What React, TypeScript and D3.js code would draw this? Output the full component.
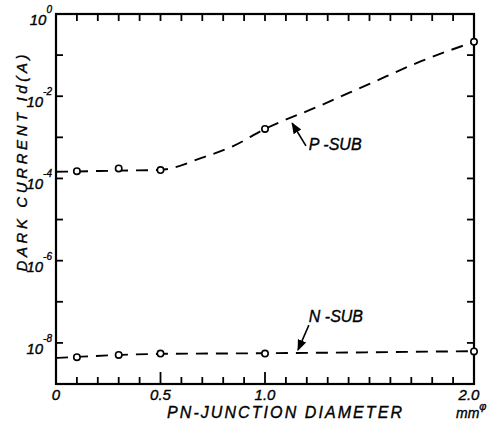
import React from 'react'
import * as d3 from 'd3'

// measured points (diameter in mm, dark current in A)
const diameters = [0.1, 0.3, 0.5, 1.0, 2.0]
const pSub = [1.5e-4, 1.75e-4, 1.6e-4, 1.6e-3, 0.21]
const nSub = [4.5e-9, 5.1e-9, 5.5e-9, 5.5e-9, 6.2e-9]

// hand-drawn dashed trend lines
const pFitD = [0, 0.1, 0.3, 0.5, 0.7, 0.85, 1.0, 1.25, 1.5, 1.75, 2.0]
const pFit = [1.45e-4, 1.48e-4, 1.55e-4, 1.62e-4, 3.2e-4, 6.2e-4, 1.6e-3, 5.5e-3, 2.0e-2, 7.2e-2, 0.21]
const nFitD = [0, 0.5, 1.0, 2.0]
const nFit = [4.3e-9, 5.4e-9, 5.6e-9, 6.3e-9]

const xTickLabels = ['0', '0.5', '1.0', '2.0']
const xTickValues = [0, 0.5, 1.0, 2.0]
const yLabelExps = [0, -2, -4, -6, -8]

// annotations: label, text pos, arrow tail, arrow tip (data coords)
const notes = [
  { label: 'P -SUB', text: [1.2, 4.9e-4], tail: [1.196, 6.2e-4], tip: [1.13, 2.2e-3] },
  { label: 'N -SUB', text: [1.2, 3.2e-8], tail: [1.21, 2.7e-8], tip: [1.158, 6.7e-9] },
]

const W = 494
const H = 425
const font = '"Liberation Sans", Arial, sans-serif'

export default function App() {
  const x = d3.scaleLinear().domain([0, 2]).range([56, 474])
  const y = d3.scaleLog().domain([1e-9, 1]).range([384, 14])
  const [x0, x1] = x.range()
  const [y0, y1] = y.range()

  const line = d3.line<[number, number]>()
    .x(d => x(d[0]))
    .y(d => y(d[1]))
    .curve(d3.curveMonotoneX)

  const pPath = line(pFitD.map((d, i) => [d, pFit[i]]))
  const nPath = line(nFitD.map((d, i) => [d, nFit[i]]))

  const minorX = d3.range(1, 20).map(i => i / 10)
  const decades = d3.range(-8, 0).map(e => Math.pow(10, e))
  const isMajor = (t: number) => Math.abs(t - 0.5) < 1e-6 || Math.abs(t - 1) < 1e-6

  const ink = { fill: '#000', stroke: '#000', strokeWidth: 0.35 }

  return (
    <svg width={W} height={H} style={{ position: 'absolute', left: 0, top: 0, background: '#fff' }}
      fontFamily={font} fontStyle="italic">
      <defs>
        <marker id="arr" viewBox="0 0 10 10" refX="9" refY="5" markerWidth="7" markerHeight="7" orient="auto">
          <path d="M0,1 L10,5 L0,9 Z" fill="#000" />
        </marker>
      </defs>

      {/* frame */}
      <rect x={x0} y={y1} width={x1 - x0} height={y0 - y1} fill="none" stroke="#000" strokeWidth={2.2} />

      {/* top / bottom ticks */}
      {minorX.map(t => (
        <g key={t}>
          <line x1={x(t)} x2={x(t)} y1={y1} y2={y1 + 7} stroke="#000" strokeWidth={1.8} />
          <line x1={x(t)} x2={x(t)} y1={y0} y2={y0 - (isMajor(t) ? 12 : 7)} stroke="#000" strokeWidth={1.8} />
        </g>
      ))}

      {/* left / right ticks */}
      {decades.map(v => (
        <g key={v}>
          <line x1={x0} x2={x0 + 7} y1={y(v)} y2={y(v)} stroke="#000" strokeWidth={1.8} />
          <line x1={x1} x2={x1 - 7} y1={y(v)} y2={y(v)} stroke="#000" strokeWidth={1.8} />
        </g>
      ))}

      {/* y tick labels */}
      {yLabelExps.map(e => (
        <text key={e} x={52} y={y(Math.pow(10, e)) + 11} textAnchor="end" fontSize={15} {...ink}>
          10<tspan dy={-12} fontSize={10}>{e === 0 ? '0' : String(e)}</tspan>
        </text>
      ))}

      {/* x tick labels */}
      {xTickValues.map((v, i) => (
        <text key={v} x={x(v) - (v === 2 ? 5 : 0)} y={400} textAnchor="middle" fontSize={15} {...ink}>
          {xTickLabels[i]}
        </text>
      ))}

      {/* axis titles */}
      <text x={167} y={418} fontSize={16} textLength={235} lengthAdjust="spacing" {...ink}>
        {'PN-JUNCTION DIAMETER'}
      </text>
      <text x={456} y={418} fontSize={14} {...ink}>mm<tspan dy={-8} fontSize={11}>φ</tspan></text>
      <text transform="translate(27,163) rotate(-90)" textAnchor="middle" fontSize={15}
        textLength={217} lengthAdjust="spacing" {...ink}>
        {'DARK CURRENT Id(A)'}
      </text>

      {/* trend lines */}
      <path d={pPath ?? ''} fill="none" stroke="#000" strokeWidth={1.9} strokeDasharray="12,8" />
      <path d={nPath ?? ''} fill="none" stroke="#000" strokeWidth={1.9} strokeDasharray="12,8" />

      {/* measured points */}
      {diameters.map((d, i) => (
        <g key={d}>
          <circle cx={x(d)} cy={y(pSub[i])} r={3.2} fill="#fff" stroke="#000" strokeWidth={1.6} />
          <circle cx={x(d)} cy={y(nSub[i])} r={3.2} fill="#fff" stroke="#000" strokeWidth={1.6} />
        </g>
      ))}

      {/* annotations */}
      {notes.map(n => (
        <g key={n.label}>
          <line x1={x(n.tail[0])} y1={y(n.tail[1])} x2={x(n.tip[0])} y2={y(n.tip[1])}
            stroke="#000" strokeWidth={1.6} markerEnd="url(#arr)" />
          <text x={x(n.text[0]) + 2} y={y(n.text[1])} fontSize={16} style={{ whiteSpace: 'pre' }} {...ink}>
            {n.label}
          </text>
        </g>
      ))}
    </svg>
  )
}
